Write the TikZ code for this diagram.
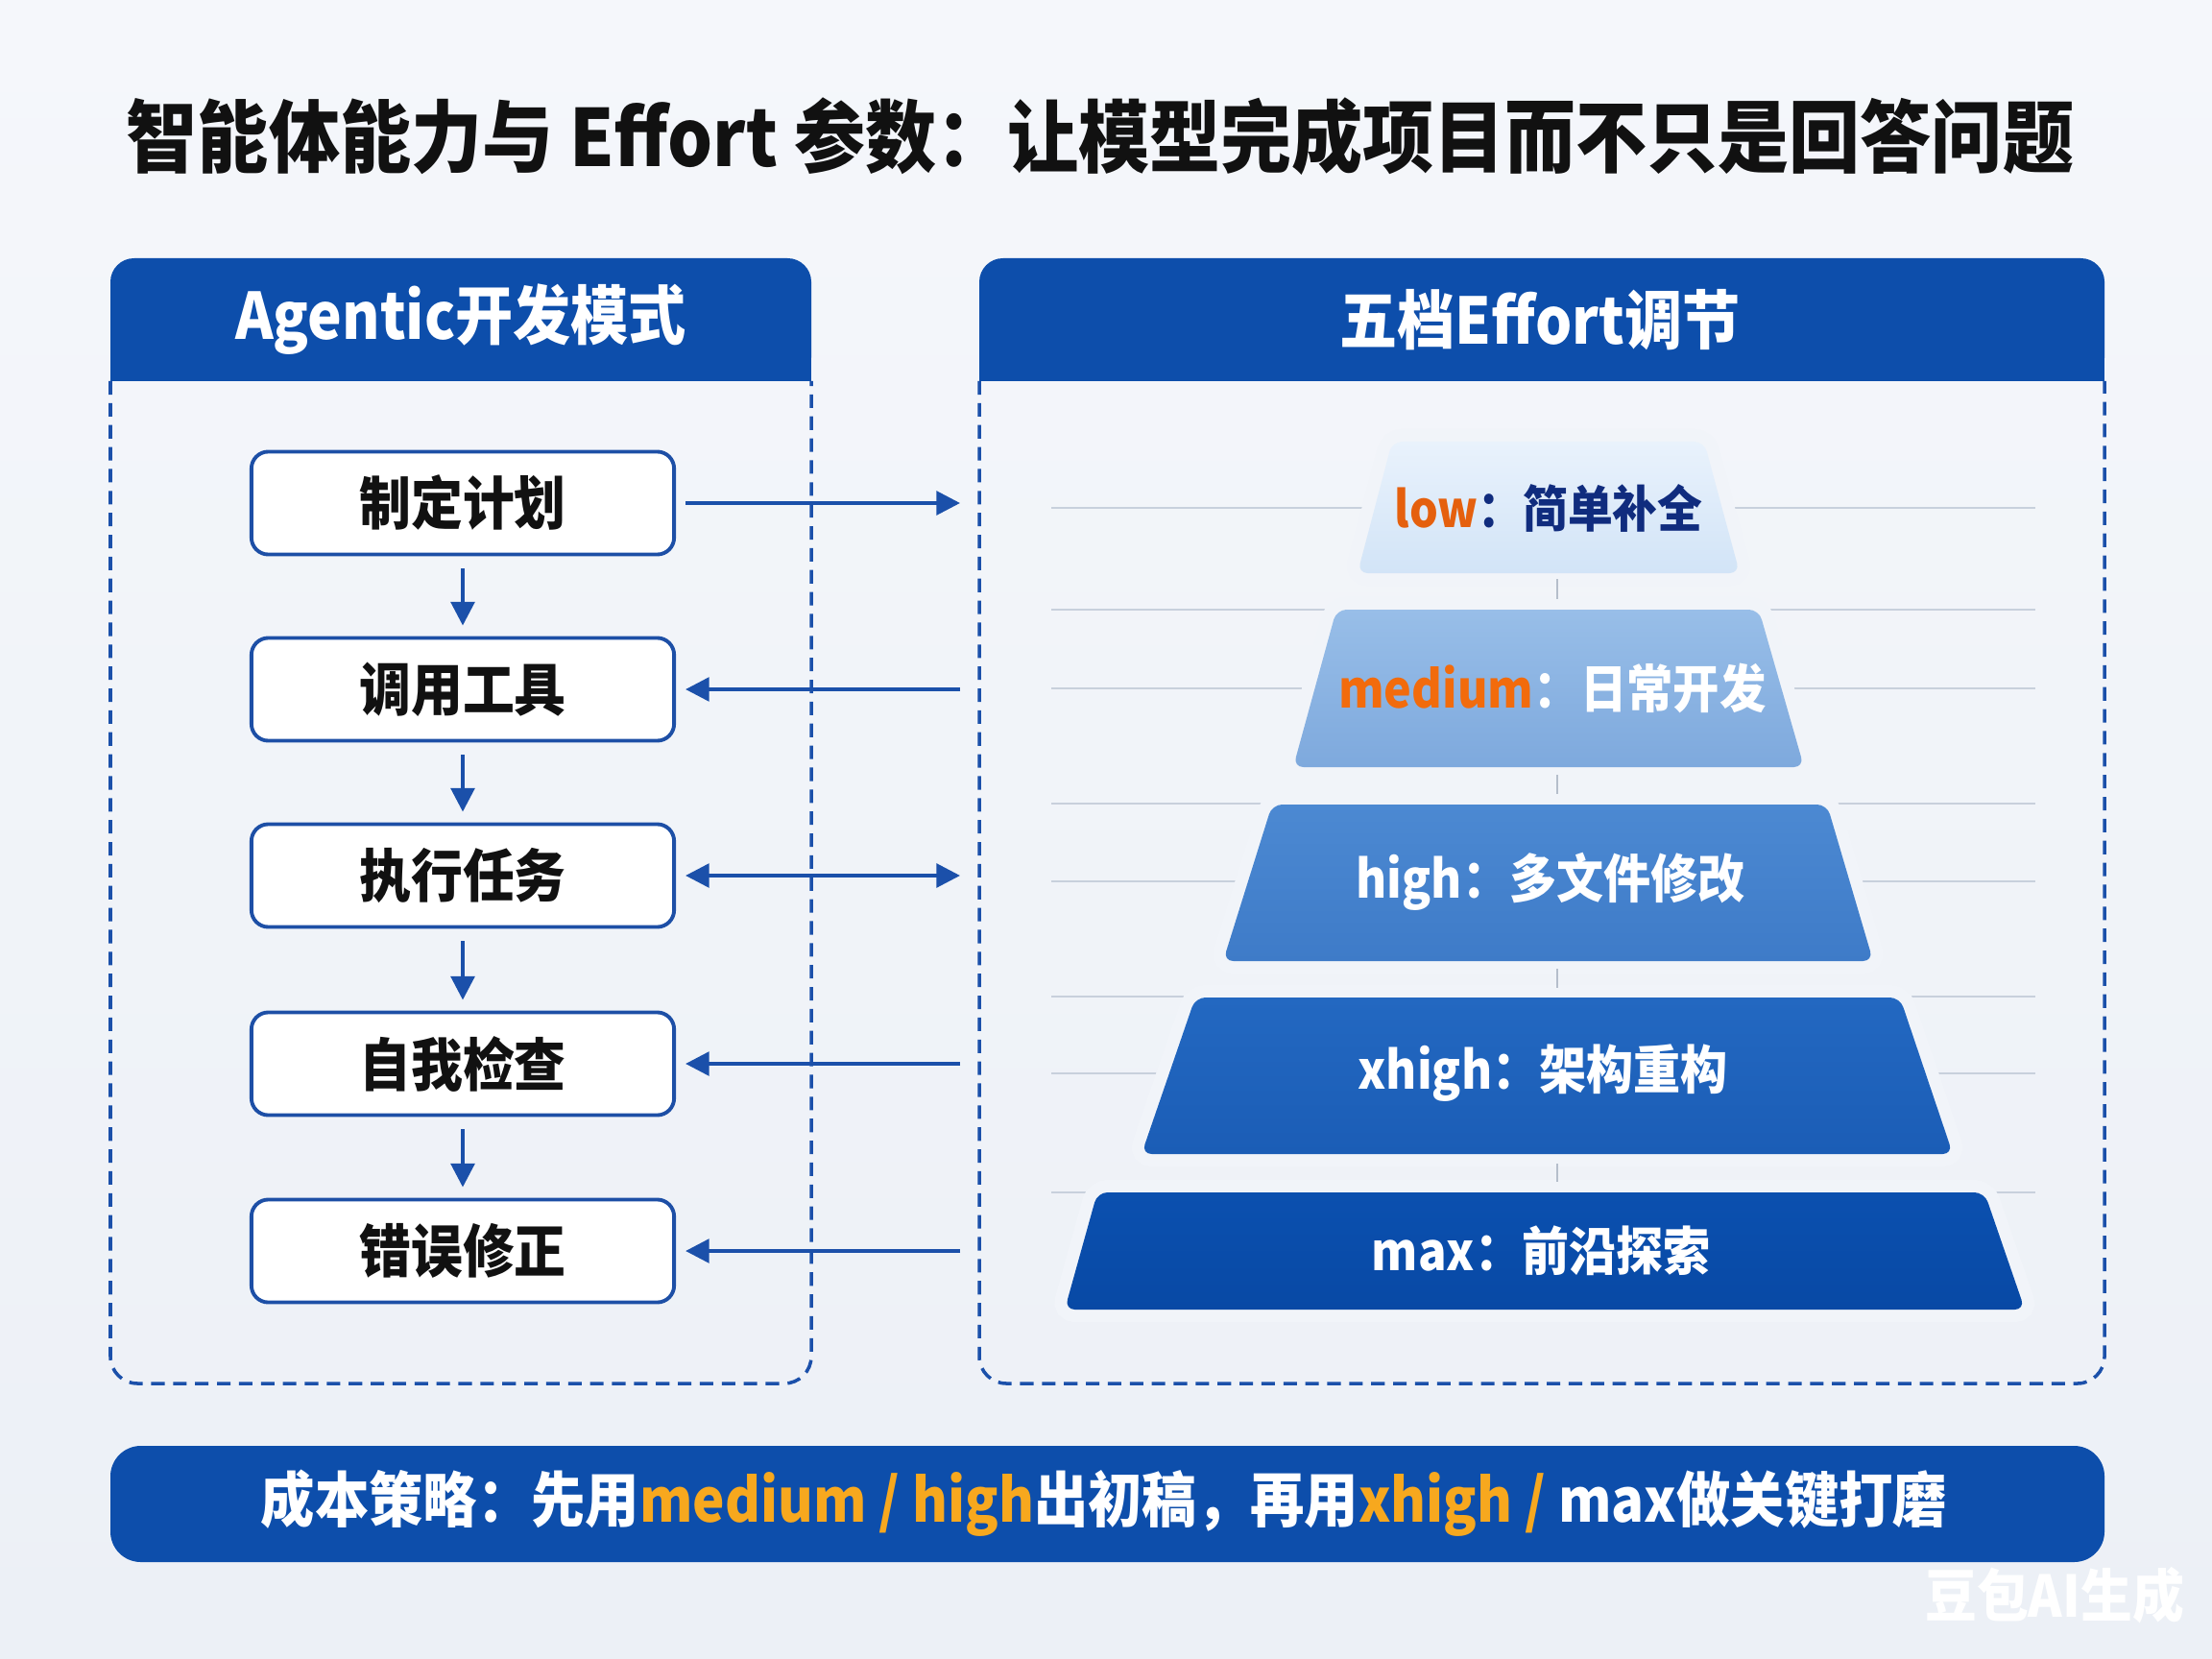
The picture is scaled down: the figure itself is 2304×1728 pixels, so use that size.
\documentclass[tikz,border=0pt]{standalone}
\usepackage{fontspec}
\setmainfont{Noto Sans CJK SC}[FakeStretch=0.9]
\usetikzlibrary{arrows.meta}
\definecolor{bgtop}{HTML}{F5F7FB}
\definecolor{bgbot}{HTML}{ECF0F6}
\definecolor{bgmid}{HTML}{F1F4F9}
\definecolor{hdrblue}{HTML}{0D4EAB}
\definecolor{lineblue}{HTML}{1B50AA}
\definecolor{boxblue}{HTML}{1D4FA6}
\definecolor{guidegray}{HTML}{C8D0DC}
\definecolor{tickgray}{HTML}{B5BECB}
\definecolor{lowtop}{HTML}{E9F2FC}
\definecolor{lowbot}{HTML}{D2E4F7}
\definecolor{medtop}{HTML}{98BEE8}
\definecolor{medbot}{HTML}{7EA9DD}
\definecolor{hightop}{HTML}{4C89D2}
\definecolor{highbot}{HTML}{3E7BC8}
\definecolor{xhtop}{HTML}{2368C1}
\definecolor{xhbot}{HTML}{1B5DB6}
\definecolor{maxtop}{HTML}{0B50AF}
\definecolor{maxbot}{HTML}{0849A5}
\definecolor{lowor}{HTML}{E5600E}
\definecolor{navy}{HTML}{102C7E}
\definecolor{medor}{HTML}{F26B0C}
\definecolor{banor}{HTML}{F7A81E}
\definecolor{inktext}{HTML}{111111}
\begin{document}
\begin{tikzpicture}[x=0.01cm,y=-0.01cm,
  hdrtext/.style={text=white, font=\fontsize{19pt}{23pt}\selectfont\bfseries},
  stepbox/.style={draw=boxblue, line width=1.1pt, fill=white, rounded corners=5pt,
    minimum width=4.4cm, minimum height=1.07cm,
    font=\fontsize{17pt}{20pt}\selectfont\bfseries, text=inktext},
  arr/.style={draw=lineblue, line width=1.1pt, -{Triangle[width=7pt,length=7pt]}},
  darr/.style={draw=lineblue, line width=1.1pt, {Triangle[width=7pt,length=7pt]}-{Triangle[width=7pt,length=7pt]}},
  guide/.style={draw=guidegray, line width=0.8pt},
  tickline/.style={draw=tickgray, line width=0.6pt},
  panel/.style={draw=lineblue, line width=1pt, dash pattern=on 4pt off 2.5pt, rounded corners=8pt},
  haloline/.style={draw=bgmid, line width=0.26cm, rounded corners=3pt},
  lvltext/.style={font=\fontsize{15.5pt}{18pt}\selectfont\bfseries, text=white},
]
% background
\shade[top color=bgtop, bottom color=bgbot] (0,0) rectangle (2304,1728);
\useasboundingbox (0,0) rectangle (2304,1728);

% title
\node[text=inktext, font=\fontsize{23.4pt}{28pt}\selectfont\bfseries] (title) at (1146,142)
  {智能体能力与 Effort 参数：让模型完成项目而不只是回答问题};

% left panel
\fill[hdrblue, rounded corners=7pt] (115,269) rectangle (845,397);
\fill[hdrblue] (115,330) rectangle (845,397);
\node[hdrtext] (lh) at (480,333) {Agentic开发模式};
\draw[panel] (115,397) -- (115,1441) -- (845,1441) -- (845,397);

% right panel
\fill[hdrblue, rounded corners=7pt] (1020,269) rectangle (2192,397);
\fill[hdrblue] (1020,330) rectangle (2192,397);
\node[hdrtext] (rh) at (1604,333) {五档Effort调节};
\draw[panel] (1020,397) -- (1020,1441) -- (2192,1441) -- (2192,397);

% steps
\node[stepbox] (b1) at (482,524) {制定计划};
\node[stepbox] (b2) at (482,718) {调用工具};
\node[stepbox] (b3) at (482,912) {执行任务};
\node[stepbox] (b4) at (482,1108) {自我检查};
\node[stepbox] (b5) at (482,1303) {错误修正};

\draw[arr, shorten <=0.13cm, shorten >=0.11cm] (b1) -- (b2);
\draw[arr, shorten <=0.13cm, shorten >=0.11cm] (b2) -- (b3);
\draw[arr, shorten <=0.13cm, shorten >=0.11cm] (b3) -- (b4);
\draw[arr, shorten <=0.13cm, shorten >=0.11cm] (b4) -- (b5);

\coordinate (r1) at (1000,524);
\coordinate (r2) at (1000,718);
\coordinate (r3) at (1000,912);
\coordinate (r4) at (1000,1108);
\coordinate (r5) at (1000,1303);
\draw[arr, shorten <=0.1cm] (b1) -- (r1);
\draw[arr, shorten >=0.1cm] (r2) -- (b2);
\draw[darr, shorten <=0.1cm] (b3) -- (r3);
\draw[arr, shorten >=0.1cm] (r4) -- (b4);
\draw[arr, shorten >=0.1cm] (r5) -- (b5);

% guide lines
\foreach \yy in {529,635,717,837,918,1038,1118,1242}
  \draw[guide] (1095,\yy) -- (2120,\yy);

% pyramid levels
\draw[haloline] (1450,460) -- (1775,460) -- (1812,597) -- (1414,597) -- cycle;
\shade[top color=lowtop, bottom color=lowbot, rounded corners=3pt] (1450,460) -- (1775,460) -- (1812,597) -- (1414,597) -- cycle;
\draw[haloline] (1392,635) -- (1832,635) -- (1879,799) -- (1347,799) -- cycle;
\shade[top color=medtop, bottom color=medbot, rounded corners=3pt] (1392,635) -- (1832,635) -- (1879,799) -- (1347,799) -- cycle;
\draw[haloline] (1325,838) -- (1903,838) -- (1951,1001) -- (1274,1001) -- cycle;
\shade[top color=hightop, bottom color=highbot, rounded corners=3pt] (1325,838) -- (1903,838) -- (1951,1001) -- (1274,1001) -- cycle;
\draw[haloline] (1245,1039) -- (1979,1039) -- (2034,1202) -- (1189,1202) -- cycle;
\shade[top color=xhtop, bottom color=xhbot, rounded corners=3pt] (1245,1039) -- (1979,1039) -- (2034,1202) -- (1189,1202) -- cycle;
\draw[haloline] (1143,1242) -- (2067,1242) -- (2109,1364) -- (1109,1364) -- cycle;
\shade[top color=maxtop, bottom color=maxbot, rounded corners=3pt] (1143,1242) -- (2067,1242) -- (2109,1364) -- (1109,1364) -- cycle;

\node[lvltext, font=\fontsize{14.8pt}{18pt}\selectfont\bfseries] (t1) at (1613,529) {\textcolor{lowor}{low}\textcolor{navy}{：简单补全}};
\node[lvltext, font=\fontsize{15.3pt}{18pt}\selectfont\bfseries] (t2) at (1617,717) {\textcolor{medor}{medium}：日常开发};
\node[lvltext] (t3) at (1615,918) {high：多文件修改};
\node[lvltext] (t4) at (1607,1118) {xhigh：架构重构};
\node[lvltext] (t5) at (1605,1303) {max：前沿探索};

% ticks between levels
\coordinate (k1a) at (1622,603); \coordinate (k1b) at (1622,624);
\coordinate (k2a) at (1622,807); \coordinate (k2b) at (1622,827);
\coordinate (k3a) at (1622,1009); \coordinate (k3b) at (1622,1029);
\coordinate (k4a) at (1622,1212); \coordinate (k4b) at (1622,1231);
\draw[tickline] (k1a) -- (k1b);
\draw[tickline] (k2a) -- (k2b);
\draw[tickline] (k3a) -- (k3b);
\draw[tickline] (k4a) -- (k4b);

% bottom banner
\fill[hdrblue, rounded corners=9pt] (115,1506) rectangle (2192,1627);
\node[text=white, font=\fontsize{17.8pt}{22pt}\selectfont\bfseries] (banner) at (1150,1566)
  {成本策略：先用\textcolor{banor}{medium / high}出初稿，再用\textcolor{banor}{xhigh /} max做关键打磨};

% watermark
\node[text=white, font=\fontsize{17pt}{20pt}\selectfont\bfseries] (wm) at (2140,1662) {豆包AI生成};
\end{tikzpicture}
\end{document}
